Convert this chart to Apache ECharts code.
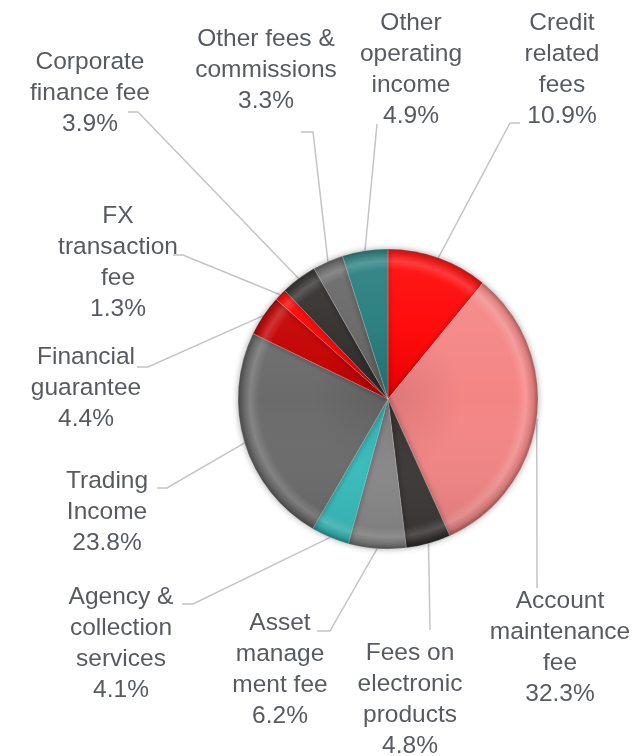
<!DOCTYPE html>
<html>
<head>
<meta charset="utf-8">
<script src="https://cdn.jsdelivr.net/npm/echarts@6/dist/echarts.min.js"></script>
<style>
    html, body { margin: 0; padding: 0; background: #fff; }
    #chart { width: 637px; height: 756px; }
</style>
</head>
<body>
<div id="chart"></div>
<script>
// slices clockwise from 12 o'clock
const categories = [
    'Credit\nrelated\nfees',
    'Account\nmaintenance\nfee',
    'Fees on\nelectronic\nproducts',
    'Asset\nmanage\nment fee',
    'Agency &\ncollection\nservices',
    'Trading\nIncome',
    'Financial\nguarantee',
    'FX\ntransaction\nfee',
    'Corporate\nfinance fee',
    'Other fees &\ncommissions',
    'Other\noperating\nincome'
];
const shares = [10.9, 32.3, 4.8, 6.2, 4.1, 23.8, 4.4, 1.3, 3.9, 3.3, 4.9];
const sliceColors = [
    '#ff0000', '#f48585', '#3b3836', '#8a8a8a', '#38bfbf', '#6b6b6b',
    '#c40000', '#ff0000', '#2f2c2a', '#656565', '#237b7b'
];

// hand-placed label blocks: [centerX, centerY] and leader elbow / end
const labelCenters = [
    [562, 70], [560, 648], [410, 700], [280, 670], [121, 644], [107, 512],
    [86, 388], [118, 263], [90, 93], [266, 70], [411, 70]
];
const leaderBends = [
    [[510, 123], [520, 123]],
    [[537, 588], [537, 588]],
    [[430, 630], [430, 630]],
    [[330, 631], [317, 631]],
    [[193, 604], [182, 604]],
    [[167, 488], [157, 488]],
    [[148, 367], [137, 367]],
    [[183, 255], [173, 255]],
    [[138, 112], [128, 112]],
    [[313, 132], [301, 132]],
    [[377, 124], [377, 124]]
];

const CX = 388, CY = 399, R = 150;

function shade(hex, k) {
    const n = parseInt(hex.slice(1), 16);
    const r = (n >> 16) & 255, g = (n >> 8) & 255, b = n & 255;
    const f = (c) => Math.max(0, Math.min(255, Math.round(k >= 0 ? c + (255 - c) * k : c * (1 + k))));
    return 'rgb(' + f(r) + ',' + f(g) + ',' + f(b) + ')';
}

function bevel(hex) {
    return {
        type: 'radial', x: CX, y: CY, r: R, global: true,
        colorStops: [
            { offset: 0, color: shade(hex, -0.1) },
            { offset: 0.5, color: hex },
            { offset: 0.86, color: hex },
            { offset: 0.92, color: shade(hex, 0.16) },
            { offset: 0.97, color: shade(hex, -0.1) },
            { offset: 1, color: shade(hex, -0.35) }
        ]
    };
}

const chart = echarts.init(document.getElementById('chart'), null, { renderer: 'canvas' });

chart.setOption({
    animation: false,
    series: [
        {
            type: 'pie',
            center: [CX, CY],
            radius: [0, R],
            startAngle: 90,
            clockwise: true,
            avoidLabelOverlap: false,
            itemStyle: {
                borderColor: 'rgba(255,255,255,0.35)',
                borderWidth: 0.6,
                shadowBlur: 6,
                shadowColor: 'rgba(0,0,0,0.35)'
            },
            label: {
                show: true,
                position: 'outside',
                fontFamily: 'Liberation Sans, Arial, sans-serif',
                fontSize: 24.5,
                lineHeight: 31,
                color: '#575b61',
                align: 'center',
                formatter: (p) => p.name + '\n' + p.value.toFixed(1) + '%'
            },
            labelLine: {
                show: true,
                length: 10,
                length2: 10,
                lineStyle: { color: '#c4c4c4', width: 1.5 }
            },
            labelLayout: (params) => {
                const i = params.dataIndex;
                const start = params.labelLinePoints ? params.labelLinePoints[0] : [CX, CY];
                return {
                    x: labelCenters[i][0],
                    y: labelCenters[i][1],
                    align: 'center',
                    verticalAlign: 'middle',
                    labelLinePoints: [start, leaderBends[i][0], leaderBends[i][1]]
                };
            },
            data: categories.map((name, i) => ({
                name: name,
                value: shares[i],
                itemStyle: { color: bevel(sliceColors[i]) }
            }))
        },
        {
            // light from above: same slices, translucent top-to-bottom wash
            type: 'pie',
            silent: true,
            center: [CX, CY],
            radius: [0, R],
            startAngle: 90,
            clockwise: true,
            label: { show: false },
            labelLine: { show: false },
            itemStyle: {
                borderWidth: 0,
                color: {
                    type: 'linear', x: 0, y: CY - R, x2: 0, y2: CY + R, global: true,
                    colorStops: [
                        { offset: 0, color: 'rgba(255,255,255,0.10)' },
                        { offset: 0.5, color: 'rgba(255,255,255,0)' },
                        { offset: 1, color: 'rgba(0,0,0,0.12)' }
                    ]
                }
            },
            data: categories.map((name, i) => ({ name: name, value: shares[i] }))
        }
    ]
});
</script>
</body>
</html>
